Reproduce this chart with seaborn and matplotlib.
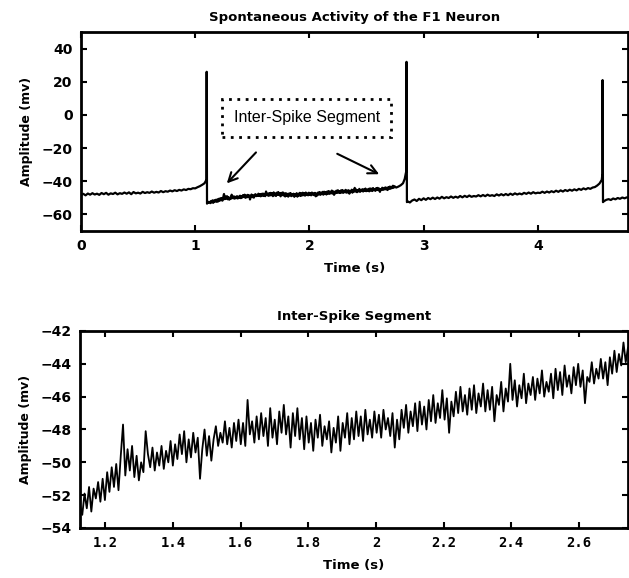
import numpy as np
import pandas as pd
import matplotlib
matplotlib.use("Agg")
import matplotlib.pyplot as plt
import seaborn as sns

# ---------------- data ----------------
# Inter-spike segment (bottom panel), sampled uniformly from SEG_T0 to SEG_T1
SEG_T0, SEG_T1 = 1.125, 2.745
seg_mv = [
    -52.6, -53.2, -51.9, -52.8, -51.5, -53.0, -51.6, -52.2, -51.2, -52.4,
    -51.0, -52.3, -50.6, -51.8, -50.3, -51.5, -50.1, -51.7, -49.6, -47.7,
    -50.8, -49.2, -50.5, -49.0, -50.9, -49.6, -51.1, -50.0, -50.6, -48.1,
    -49.5, -50.3, -49.1, -50.5, -49.4, -50.2, -49.0, -50.4, -49.3, -50.0,
    -48.7, -50.2, -48.9, -49.8, -48.3, -49.5, -48.1, -50.0, -48.6, -49.7,
    -48.2, -49.4, -48.5, -51.0, -49.2, -48.0, -49.6, -48.4, -49.9, -48.6,
    -47.8, -49.0, -48.2, -48.8, -47.5, -48.9, -47.9, -49.1, -47.6, -48.7,
    -47.4, -48.9, -47.6, -49.0, -46.2, -48.3, -47.5, -48.8, -47.2, -48.6,
    -47.0, -48.4, -47.3, -49.0, -46.7, -48.5, -47.4, -48.9, -46.9, -48.2,
    -46.5, -48.3, -47.2, -49.1, -47.0, -48.4, -46.7, -48.6, -47.3, -49.2,
    -47.2, -48.8, -47.6, -49.3, -47.4, -48.5, -47.1, -49.0, -47.8, -48.6,
    -47.5, -49.4, -47.9, -48.8, -47.2, -49.3, -47.6, -48.5, -47.0, -48.9,
    -47.3, -48.6, -46.9, -48.4, -47.2, -48.7, -46.8, -48.3, -47.4, -48.5,
    -46.9, -48.2, -47.1, -48.5, -46.8, -48.0, -47.3, -48.4, -47.0, -49.1,
    -47.4, -48.6, -46.8, -47.9, -46.5, -48.2, -46.9, -47.8, -46.4, -48.1,
    -46.3, -47.7, -46.6, -48.0, -46.2, -47.5, -45.9, -47.6, -46.4, -47.3,
    -45.6, -47.4, -46.1, -48.2, -46.3, -47.2, -45.7, -47.0, -45.4, -46.9,
    -45.9, -47.1, -45.5, -46.8, -45.3, -47.0, -45.8, -46.6, -45.2, -46.9,
    -45.6, -46.8, -45.4, -47.5, -45.9, -46.5, -45.1, -46.9, -45.5, -46.3,
    -44.0, -46.2, -45.0, -46.6, -45.3, -46.1, -44.6, -46.4, -45.2, -45.9,
    -44.8, -46.2, -44.9, -45.8, -44.4, -46.0, -45.1, -45.7, -44.6, -46.1,
    -44.3, -45.6, -44.5, -45.9, -44.1, -45.4, -44.7, -45.8, -44.2, -45.3,
    -44.0, -45.4, -44.4, -46.4, -44.8, -45.1, -43.9, -45.2, -44.3, -44.9,
    -43.7, -44.9, -43.9, -45.3, -43.6, -44.6, -43.2, -44.5, -43.4, -44.1,
    -42.7, -43.9, -43.0,
]

# Resting trace before first spike (t = 0.00 ... 1.08, every 0.02 s)
PRE_T0, PRE_DT = 0.0, 0.02
pre_mv = [
    -48.3, -47.6, -48.5, -47.4, -48.1, -47.2, -48.0, -47.5, -48.2, -47.1,
    -47.8, -47.0, -48.1, -47.3, -47.7, -46.9, -47.9, -47.2, -47.6, -46.8,
    -47.5, -46.7, -47.8, -46.5, -47.3, -46.9, -47.4, -46.4, -47.1, -46.6,
    -47.0, -46.2, -46.9, -46.4, -46.8, -45.9, -46.6, -46.0, -46.3, -45.6,
    -46.1, -45.4, -45.9, -45.2, -45.6, -44.9, -45.3, -44.6, -44.8, -44.2,
    -44.3, -43.6, -43.0, -42.2, -41.3,
]

# Spike 1 and its after-hyperpolarisation up to the segment start
spike1_t = [1.090, 1.098, 1.1005, 1.102, 1.1035, 1.108, 1.113, 1.119]
spike1_mv = [-40.2, -39.0, 26.0, -20.0, -53.5, -52.6, -53.0, -52.4]

# Ramp and spike 2 after the segment
spike2_t = [2.760, 2.780, 2.800, 2.820, 2.835, 2.845, 2.849, 2.8505, 2.852, 2.854, 2.860, 2.880, 2.900]
spike2_mv = [-43.8, -43.2, -42.4, -41.2, -38.5, -35.0, -34.0, 32.0, -10.0, -52.6, -52.1, -52.8, -51.6]

# Second inter-spike interval (t = 2.92 ... 4.56, every 0.02 s)
MID_T0, MID_DT = 2.92, 0.02
mid_mv = [
    -51.0, -51.9, -50.6, -51.4, -50.3, -51.2, -50.1, -50.8, -49.9, -50.7,
    -49.8, -50.5, -49.4, -50.3, -49.6, -50.1, -49.2, -50.0, -49.3, -49.9,
    -48.9, -49.7, -48.8, -49.5, -48.6, -49.4, -48.9, -49.2, -48.4, -49.1,
    -48.3, -49.0, -48.1, -48.8, -48.4, -48.9, -47.9, -48.6, -47.8, -48.5,
    -47.7, -48.4, -47.5, -48.2, -47.3, -48.0, -47.4, -47.9, -47.0, -47.6,
    -46.8, -47.5, -46.6, -47.3, -46.9, -47.1, -46.3, -47.0, -46.2, -46.8,
    -46.0, -46.6, -45.7, -46.4, -45.5, -46.2, -45.3, -45.9, -45.1, -45.7,
    -44.9, -45.5, -44.6, -45.2, -44.3, -44.9, -44.1, -44.6, -43.8, -43.5,
    -42.6, -41.4, -39.2,
]

# Spike 3 and tail
spike3_t = [4.566, 4.5675, 4.569, 4.571, 4.580, 4.600, 4.620, 4.640, 4.660, 4.680,
            4.700, 4.720, 4.740, 4.760, 4.780, 4.800]
spike3_mv = [-35.5, 21.0, -15.0, -52.6, -52.0, -51.2, -50.8, -51.3, -50.4, -50.9,
             -50.1, -50.6, -49.8, -50.3, -49.7, -50.0]

top_xticks = [0, 1, 2, 3, 4]
top_yticks = [-60, -40, -20, 0, 20, 40]
bot_xticks = [1.2, 1.4, 1.6, 1.8, 2.0, 2.2, 2.4, 2.6]
bot_xticklabels = ["1.2", "1.4", "1.6", "1.8", "2", "2.2", "2.4", "2.6"]
bot_yticks = [-54, -52, -50, -48, -46, -44, -42]

top_title = "Spontaneous Activity of the F1 Neuron"
bot_title = "Inter-Spike Segment"
note_text = "Inter-Spike Segment"
xlab = "Time (s)"
ylab = "Amplitude (mv)"

# ---------------- build frames ----------------
seg_t = np.linspace(SEG_T0, SEG_T1, len(seg_mv))
pre_t = PRE_T0 + PRE_DT * np.arange(len(pre_mv))
mid_t = MID_T0 + MID_DT * np.arange(len(mid_mv))

full_t = np.concatenate([pre_t, spike1_t, seg_t, spike2_t, mid_t, spike3_t])
full_v = np.concatenate([pre_mv, spike1_mv, seg_mv, spike2_mv, mid_mv, spike3_mv])
df_full = pd.DataFrame({"t": full_t, "mv": full_v})
df_seg = pd.DataFrame({"t": seg_t, "mv": seg_mv})

# ---------------- figure ----------------
sns.set_style("ticks")
plt.rcParams["font.family"] = ["DejaVu Sans"]
plt.rcParams["text.color"] = "black"
plt.rcParams["axes.labelcolor"] = "black"
plt.rcParams["xtick.color"] = "black"
plt.rcParams["ytick.color"] = "black"

fig = plt.figure(figsize=(6.29, 5.78), dpi=100)
ax1 = fig.add_axes([81 / 629, 1 - 231 / 578, 547 / 629, 199 / 578])
ax2 = fig.add_axes([80 / 629, 1 - 528 / 578, 548 / 629, 197 / 578])

sns.lineplot(data=df_full, x="t", y="mv", ax=ax1, color="black", lw=1.6,
             estimator=None, sort=False)
sns.lineplot(data=df_seg, x="t", y="mv", ax=ax2, color="black", lw=1.3,
             estimator=None, sort=False)

ax1.set_xlim(0, 4.79)
ax1.set_ylim(-70, 50)
ax1.set_xticks(top_xticks)
ax1.set_yticks(top_yticks)

ax2.set_xlim(1.125, 2.745)
ax2.set_ylim(-54, -42)
ax2.set_xticks(bot_xticks)
ax2.set_xticklabels(bot_xticklabels)
ax2.set_yticks(bot_yticks)

for ax, title in ((ax1, top_title), (ax2, bot_title)):
    for s in ax.spines.values():
        s.set_visible(True)
        s.set_linewidth(2)
        s.set_color("black")
    ax.tick_params(direction="in", top=True, right=True, length=4, width=1.5,
                   labelsize=10, pad=6, colors="black", labelcolor="black")
    for lab in ax.get_yticklabels():
        lab.set_fontweight("bold")
    ax.set_title(title, fontsize=9.5, fontweight="bold", pad=8, color="black")
    ax.set_xlabel(xlab, fontsize=9.5, fontweight="bold", labelpad=6, color="black")
    ax.set_ylabel(ylab, fontsize=9, fontweight="bold", labelpad=6, color="black")

for lab in ax1.get_xticklabels():
    lab.set_fontweight("bold")
for lab in ax2.get_xticklabels():
    lab.set_fontfamily("DejaVu Sans Mono")
    lab.set_fontweight("bold")

# annotation box and arrows
ax1.text(1.977, -1.6, note_text, fontsize=11.5, family="Liberation Sans",
         ha="center", va="center", color="black",
         bbox=dict(boxstyle="square,pad=0.72", fc="white", ec="black",
                   lw=2, ls=(0, (1, 2))))
ax1.annotate("", xy=(1.26, -42.5), xytext=(1.549, -21.4),
             arrowprops=dict(arrowstyle="->", lw=1.5, color="black",
                             mutation_scale=16))
ax1.annotate("", xy=(2.633, -36.5), xytext=(2.222, -22.7),
             arrowprops=dict(arrowstyle="->", lw=1.5, color="black",
                             mutation_scale=16))

fig.savefig("out.png", dpi=100, facecolor="white")
